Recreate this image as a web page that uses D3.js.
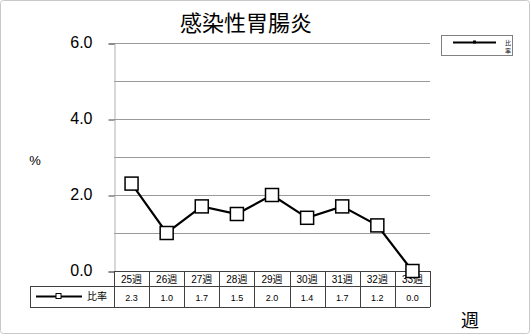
<!DOCTYPE html>
<html>
<head>
<meta charset="utf-8">
<script src="https://cdn.jsdelivr.net/npm/d3@7"></script>
<style>
  body { margin: 0; background: #fff; }
  text { font-family: "Liberation Sans", "Noto Sans CJK JP", sans-serif; }
</style>
</head>
<body>
<div class="container"></div>
<script>
// data
var weeks = ["25週", "26週", "27週", "28週", "29週", "30週", "31週", "32週", "33週"];
var rates = [2.3, 1.0, 1.7, 1.5, 2.0, 1.4, 1.7, 1.2, 0.0];
var yTicks = [0, 2, 4, 6];
var seriesName = "比率";

var svgWidth = 530, svgHeight = 334;
var plot = { left: 114, right: 430, top: 43, bottom: 271 };

var svg = d3.select(".container").append("svg")
  .attr("width", svgWidth)
  .attr("height", svgHeight);

// outer frame
svg.append("rect")
  .attr("x", 0.5).attr("y", 0.5)
  .attr("width", svgWidth - 1).attr("height", svgHeight - 1)
  .attr("rx", 3)
  .attr("fill", "#fff")
  .attr("stroke", "#c8c8c8");

var x = d3.scaleBand().domain(weeks).range([plot.left, plot.right]);
var y = d3.scaleLinear().domain([0, 6]).range([plot.bottom, plot.top]);

// gridlines every 1.0
svg.append("g").selectAll("line")
  .data(d3.range(1, 7))
  .enter().append("line")
  .attr("x1", plot.left).attr("x2", plot.right)
  .attr("y1", d => y(d) + 0.5).attr("y2", d => y(d) + 0.5)
  .attr("stroke", "#9a9a9a");

// left axis
var leftAxis = d3.axisLeft(y).tickValues(yTicks).tickFormat(d3.format(".1f")).tickSize(6).tickPadding(16);
var yAxis = svg.append("g")
  .attr("transform", `translate(${plot.left + 0.5},0.5)`)
  .call(leftAxis);
yAxis.select(".domain").attr("stroke", "#b0b0b0");
yAxis.selectAll(".tick line").attr("stroke", "#404040");
yAxis.selectAll("text").attr("font-size", 16).attr("fill", "#000").attr("dy", "0.25em");

// y label
svg.append("text")
  .attr("x", 35).attr("y", 165)
  .attr("text-anchor", "middle")
  .attr("font-size", 13)
  .text("%");

// title
svg.append("text")
  .attr("x", 246).attr("y", 31)
  .attr("text-anchor", "middle")
  .attr("font-size", 22)
  .attr("font-weight", 400)
  .attr("font-family", "Noto Sans CJK JP")
  .text("感染性胃腸炎");

// data table
var tableLeft = 30, headTop = 271, headBottom = 286, rowBottom = 307;
var tg = svg.append("g").attr("stroke", "#404040").attr("fill", "none");
tg.append("line").attr("x1", plot.left).attr("x2", plot.right).attr("y1", headTop + 0.5).attr("y2", headTop + 0.5);
tg.append("line").attr("x1", tableLeft).attr("x2", plot.right).attr("y1", headBottom + 0.5).attr("y2", headBottom + 0.5);
tg.append("line").attr("x1", tableLeft).attr("x2", plot.right).attr("y1", rowBottom + 0.5).attr("y2", rowBottom + 0.5);
tg.append("line").attr("x1", tableLeft + 0.5).attr("x2", tableLeft + 0.5).attr("y1", headBottom).attr("y2", rowBottom);
tg.selectAll(".col")
  .data(weeks)
  .enter().append("line")
  .attr("x1", d => Math.round(x(d)) + 0.5).attr("x2", d => Math.round(x(d)) + 0.5)
  .attr("y1", headTop).attr("y2", rowBottom);
tg.append("line").attr("x1", plot.right + 0.5).attr("x2", plot.right + 0.5).attr("y1", headTop).attr("y2", rowBottom);

svg.append("g").selectAll("text")
  .data(weeks)
  .enter().append("text")
  .attr("x", d => x(d) + x.bandwidth() / 2)
  .attr("y", 283)
  .attr("text-anchor", "middle")
  .attr("font-size", 10)
  .text(d => d);

svg.append("g").selectAll("text")
  .data(rates)
  .enter().append("text")
  .attr("x", (d, i) => x(weeks[i]) + x.bandwidth() / 2)
  .attr("y", 301)
  .attr("text-anchor", "middle")
  .attr("font-size", 9)
  .text(d => d.toFixed(1));

// table row key
svg.append("line")
  .attr("x1", 36).attr("x2", 82).attr("y1", 296.5).attr("y2", 296.5)
  .attr("stroke", "#000").attr("stroke-width", 2);
svg.append("rect")
  .attr("x", 56).attr("y", 293.5).attr("width", 5).attr("height", 5)
  .attr("fill", "#fff").attr("stroke", "#000");
svg.append("text")
  .attr("x", 87).attr("y", 300)
  .attr("font-size", 10)
  .text(seriesName);

// series line
var line = d3.line()
  .x((d, i) => x(weeks[i]) + x.bandwidth() / 2)
  .y(d => y(d));
svg.append("path")
  .datum(rates)
  .attr("d", line)
  .attr("fill", "none")
  .attr("stroke", "#000")
  .attr("stroke-width", 2.2);

svg.append("g").selectAll("rect")
  .data(rates)
  .enter().append("rect")
  .attr("x", (d, i) => x(weeks[i]) + x.bandwidth() / 2 - 6.5)
  .attr("y", d => y(d) - 6.5)
  .attr("width", 13).attr("height", 13)
  .attr("fill", "#fff")
  .attr("stroke", "#000")
  .attr("stroke-width", 1.5);

// legend
svg.append("rect")
  .attr("x", 441.5).attr("y", 35.5).attr("width", 71).attr("height", 20)
  .attr("fill", "#fff").attr("stroke", "#808080");
svg.append("line")
  .attr("x1", 453).attr("x2", 496).attr("y1", 42.5).attr("y2", 42.5)
  .attr("stroke", "#000").attr("stroke-width", 2);
svg.append("rect")
  .attr("x", 473).attr("y", 40.5).attr("width", 3).attr("height", 3)
  .attr("fill", "#000");
svg.append("text").attr("x", 508).attr("y", 45).attr("text-anchor", "middle").attr("font-size", 6).text(seriesName[0]);
svg.append("text").attr("x", 508).attr("y", 53).attr("text-anchor", "middle").attr("font-size", 6).text(seriesName[1]);

// x label
svg.append("text")
  .attr("x", 470).attr("y", 327)
  .attr("text-anchor", "middle")
  .attr("font-size", 18)
  .attr("font-family", "Noto Sans CJK JP")
  .text("週");
</script>
</body>
</html>
